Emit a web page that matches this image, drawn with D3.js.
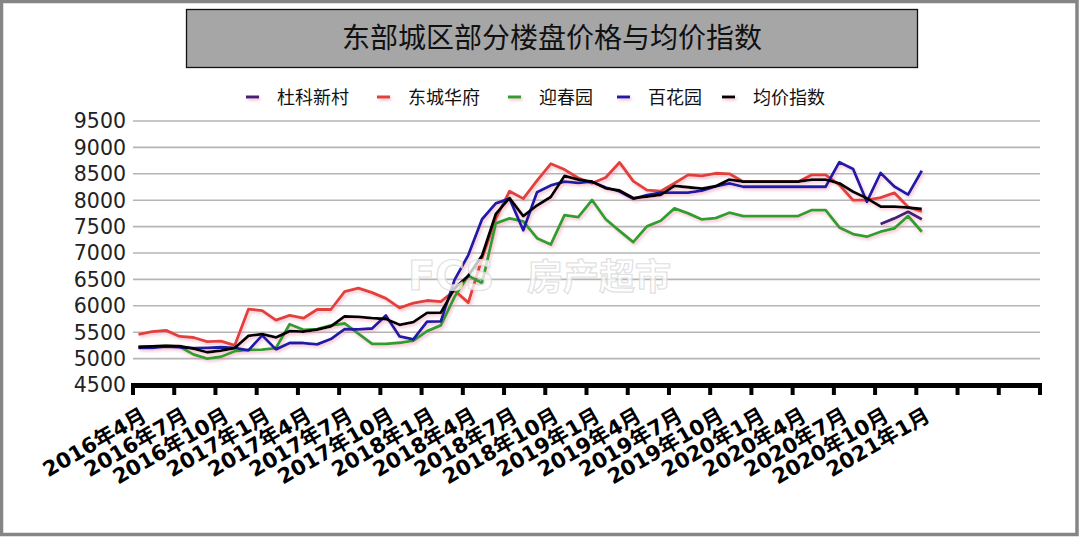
<!DOCTYPE html>
<html><head><meta charset="utf-8">
<script src="https://cdn.jsdelivr.net/npm/d3@7/dist/d3.min.js"></script>
<style>body{margin:0;background:#fff}svg{display:block}</style>
</head><body>
<script>
// ---------- data ----------
const title = "东部城区部分楼盘价格与均价指数";
const seriesNames = ["杜科新村","东城华府","迎春园","百花园","均价指数"];
const seriesColors = ["#40207a","#e2403a","#2f9f2f","#1c1ca8","#000000"];
const months = ["2016年4月","2016年5月","2016年6月","2016年7月","2016年8月","2016年9月","2016年10月","2016年11月","2016年12月",
"2017年1月","2017年2月","2017年3月","2017年4月","2017年5月","2017年6月","2017年7月","2017年8月","2017年9月","2017年10月","2017年11月","2017年12月",
"2018年1月","2018年2月","2018年3月","2018年4月","2018年5月","2018年6月","2018年7月","2018年8月","2018年9月","2018年10月","2018年11月","2018年12月",
"2019年1月","2019年2月","2019年3月","2019年4月","2019年5月","2019年6月","2019年7月","2019年8月","2019年9月","2019年10月","2019年11月","2019年12月",
"2020年1月","2020年2月","2020年3月","2020年4月","2020年5月","2020年6月","2020年7月","2020年8月","2020年9月","2020年10月","2020年11月","2020年12月",
"2021年1月"];
const tickLabels = ["2016年4月","2016年7月","2016年10月","2017年1月","2017年4月","2017年7月","2017年10月","2018年1月","2018年4月","2018年7月","2018年10月",
"2019年1月","2019年4月","2019年7月","2019年10月","2020年1月","2020年4月","2020年7月","2020年10月","2021年1月"];
const yTicks = [4500,5000,5500,6000,6500,7000,7500,8000,8500,9000,9500];

const dukexincun = [null,null,null,null,null,null,null,null,null,null,null,null,null,null,null,null,null,null,null,null,
null,null,null,null,null,null,null,null,null,null,null,null,null,null,null,null,null,null,null,null,
null,null,null,null,null,null,null,null,null,null,null,null,null,null,7548,7655,7780,7640];
const dongchenghuafu = [5459,5510,5535,5420,5400,5320,5330,5250,5936,5910,5730,5820,5765,5930,5930,6270,6335,6250,6140,5960,
6050,6100,6080,6290,6060,6900,7650,8170,8030,8370,8690,8580,8420,8320,8430,8715,8360,8190,8170,8320,
8480,8460,8510,8500,8350,8350,8350,8350,8350,8480,8480,8290,8000,8000,8050,8140,7870,7790];
const yingchunyuan = [5220,5230,5240,5225,5080,5000,5035,5140,5165,5170,5200,5650,5545,5560,5630,5665,5475,5280,5280,5300,
5340,5520,5630,6170,6570,6430,7560,7655,7600,7280,7160,7718,7680,8003,7640,7420,7205,7505,7610,7845,
7750,7636,7660,7763,7700,7700,7700,7700,7700,7813,7813,7485,7359,7308,7403,7466,7700,7403];
const baihuayuan = [5205,5205,5225,5215,5200,5205,5215,5205,5155,5440,5175,5295,5295,5270,5370,5560,5555,5570,5815,5420,
5365,5700,5705,6490,6960,7640,7940,8030,7430,8150,8280,8350,8330,8350,8240,8165,8025,8097,8145,8145,
8145,8180,8260,8320,8255,8255,8255,8255,8255,8255,8255,8720,8590,7970,8515,8260,8105,8558];
const junjiazhishu = [5220,5230,5240,5235,5190,5120,5150,5200,5430,5465,5400,5520,5510,5550,5610,5800,5790,5765,5750,5640,
5690,5865,5870,6330,6570,6950,7740,8040,7700,7900,8060,8460,8390,8350,8225,8185,8040,8066,8100,8270,
8245,8220,8265,8390,8350,8350,8350,8350,8350,8390,8390,8320,8160,8035,7880,7880,7860,7835];
const seriesData = [dukexincun, dongchenghuafu, yingchunyuan, baihuayuan, junjiazhishu];

// ---------- drawing ----------
const W = 1080, H = 538;
const svg = d3.select("body").append("svg").attr("width", W).attr("height", H);
const defs = svg.append("defs");
const f = defs.append("filter").attr("id","shadow").attr("filterUnits","userSpaceOnUse")
  .attr("x",0).attr("y",0).attr("width",W).attr("height",H);
f.append("feDropShadow").attr("dx",1.5).attr("dy",2).attr("stdDeviation",1.4)
  .attr("flood-color","#e890a8").attr("flood-opacity",0.55);

svg.append("rect").attr("x",0).attr("y",0).attr("width",W).attr("height",H).attr("fill","#fff");
svg.append("rect").attr("x",1.5).attr("y",1.5).attr("width",W-4.5).attr("height",H-5)
  .attr("fill","none").attr("stroke","#858585").attr("stroke-width",3.5);

// title
svg.append("rect").attr("x",186.5).attr("y",9.5).attr("width",731).attr("height",58)
  .attr("fill","#a6a6a6").attr("stroke","#111").attr("stroke-width",1.3);
svg.append("text").attr("x",552).attr("y",48).attr("text-anchor","middle")
  .attr("font-family","'Noto Sans CJK SC'").attr("font-size",28).attr("fill","#111").text(title);

// scales
const nCat = 66;
const x = d3.scaleLinear().domain([0, nCat]).range([133, 1040]);
const y = d3.scaleLinear().domain([4500, 9500]).range([385, 121]);
const monthIndex = d3.scaleOrdinal().domain(months).range(d3.range(months.length));

// gridlines
svg.append("g").selectAll("line").data(yTicks.slice(1)).join("line")
  .attr("x1", x(0)).attr("x2", x(nCat)).attr("y1", d=>y(d)).attr("y2", d=>y(d))
  .attr("stroke","#b5b5b5").attr("stroke-width",1.6);

// y labels
svg.append("g").selectAll("text").data(yTicks).join("text")
  .attr("x",126).attr("y",d=>y(d)).attr("dy","0.36em").attr("text-anchor","end")
  .attr("font-family","'DejaVu Sans'").attr("font-size",20.5).attr("fill","#222").text(d=>d);

// x axis
const tickIdx = d3.range(0, nCat+1, 3);
svg.append("line").attr("x1",x(0)-2).attr("x2",x(nCat)+2).attr("y1",y(4500)+0.5).attr("y2",y(4500)+0.5)
  .attr("stroke","#000").attr("stroke-width",5);
svg.append("g").selectAll("line").data(tickIdx).join("line")
  .attr("x1",d=>x(d)).attr("x2",d=>x(d)).attr("y1",y(4500)).attr("y2",y(4500)+10)
  .attr("stroke","#000").attr("stroke-width",4);
svg.append("g").selectAll("text").data(tickLabels).join("text")
  .attr("transform",(d)=>`translate(${x(monthIndex(d))+15},${420}) rotate(-30)`)
  .attr("text-anchor","end").attr("font-family","'DejaVu Sans','Noto Sans CJK SC'")
  .attr("font-weight","bold").attr("font-size",21).attr("fill","#000").text(d=>d);

// lines
const line = d3.line().defined(d=>d!=null).x((d,i)=>x(i+0.4)).y(d=>y(d));
const lg = svg.append("g").attr("filter","url(#shadow)");
seriesData.forEach((s,k)=>{
  lg.append("path").datum(s).attr("d",line).attr("fill","none")
    .attr("stroke",seriesColors[k]).attr("stroke-width",2.8).attr("stroke-linejoin","round");
});

// watermark
const wm = svg.append("g").attr("font-family","'DejaVu Sans','Noto Sans CJK SC'").attr("font-weight","bold")
  .attr("fill","#ffffff").attr("fill-opacity",0.75).attr("stroke","#d8d8d8").attr("stroke-width",1.2).attr("stroke-opacity",0.8);
wm.append("text").attr("x",408).attr("y",290).attr("font-size",40).text("FCS");
wm.append("text").attr("x",527).attr("y",290).attr("font-size",36).text("房产超市");

// legend
const legX = [246, 377, 508, 617, 722];
const lgd = svg.append("g");
seriesNames.forEach((n,k)=>{
  lgd.append("line").attr("x1",legX[k]).attr("x2",legX[k]+13).attr("y1",97).attr("y2",97)
    .attr("stroke",seriesColors[k]).attr("stroke-width",3).attr("filter","url(#shadow)");
  lgd.append("text").attr("x",legX[k]+31).attr("y",104).attr("font-family","'Noto Sans CJK SC'")
    .attr("font-size",18).attr("fill","#111").text(n);
});
</script>
</body></html>
